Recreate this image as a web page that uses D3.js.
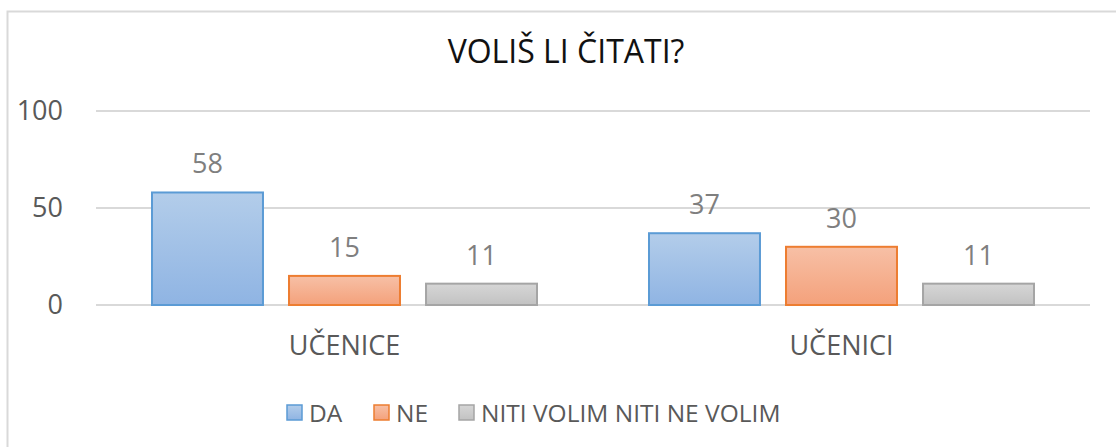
<!DOCTYPE html>
<html>
<style>
    body { margin: 0; background: #fff; font-family: "Open Sans", sans-serif; }
    text { font-family: "Open Sans", sans-serif; }
</style>
<body>
<svg id="viz" width="1116" height="447"></svg>
<script src="https://cdnjs.cloudflare.com/ajax/libs/d3/7.8.5/d3.min.js"></script>
<script>
    var categories = ['UČENICE', 'UČENICI'];
    var seriesNames = ['DA', 'NE', 'NITI VOLIM NITI NE VOLIM'];
    var seriesValues = [[58, 37], [15, 30], [11, 11]];
    var yTicks = [0, 50, 100];

    var colors = [
        { top: '#b3cdea', bottom: '#8fb4e3', stroke: '#5b9bd5' },
        { top: '#f7c0a6', bottom: '#f4a17b', stroke: '#ed7d31' },
        { top: '#d6d6d6', bottom: '#c2c2c2', stroke: '#a5a5a5' }
    ];

    var svg = d3.select('#viz');

    // chart frame
    svg.append('rect')
        .attr('x', 7.5).attr('y', 11.5)
        .attr('width', 1120).attr('height', 450)
        .attr('fill', 'none').attr('stroke', '#d9d9d9').attr('stroke-width', 2);

    var defs = svg.append('defs');
    colors.forEach(function(c, i) {
        var g = defs.append('linearGradient').attr('id', 'grad' + i)
            .attr('x1', 0).attr('y1', 0).attr('x2', 0).attr('y2', 1);
        g.append('stop').attr('offset', '0%').attr('stop-color', c.top);
        g.append('stop').attr('offset', '100%').attr('stop-color', c.bottom);
    });

    var left = 96, right = 1090;
    var x0 = d3.scaleBand().domain(categories).range([left, right]);
    var x1 = d3.scaleBand().domain(d3.range(seriesNames.length))
        .range([56, x0.bandwidth() - 56]).paddingInner(0.19);
    var y = d3.scaleLinear().domain([0, 100]).range([305, 111]);

    // title
    svg.append('text')
        .attr('x', 566).attr('y', 63)
        .attr('text-anchor', 'middle')
        .attr('font-size', 32)
        .attr('fill', '#111')
        .text('VOLIŠ LI ČITATI?');

    // gridlines
    svg.append('g').selectAll('line').data(yTicks).join('line')
        .attr('x1', left).attr('x2', right)
        .attr('y1', function(d) { return y(d); })
        .attr('y2', function(d) { return y(d); })
        .attr('stroke', '#d9d9d9').attr('stroke-width', 2);

    // y tick labels
    svg.append('g').selectAll('text').data(yTicks).join('text')
        .attr('x', 63).attr('y', function(d) { return y(d); })
        .attr('dy', '0.35em')
        .attr('text-anchor', 'end')
        .attr('font-size', 27)
        .attr('fill', '#595959')
        .text(function(d) { return d; });

    // bars
    var groups = svg.append('g').selectAll('g').data(categories).join('g')
        .attr('transform', function(d) { return 'translate(' + x0(d) + ',0)'; });

    groups.each(function(cat, ci) {
        var g = d3.select(this);
        seriesNames.forEach(function(s, si) {
            var v = seriesValues[si][ci];
            g.append('rect')
                .attr('x', x1(si)).attr('width', x1.bandwidth())
                .attr('y', y(v)).attr('height', y(0) - y(v))
                .attr('fill', 'url(#grad' + si + ')')
                .attr('stroke', colors[si].stroke).attr('stroke-width', 2);
            g.append('text')
                .attr('x', x1(si) + x1.bandwidth() / 2)
                .attr('y', y(v) - 19)
                .attr('text-anchor', 'middle')
                .attr('font-size', 27)
                .attr('fill', '#7f7f7f')
                .text(v);
        });
        g.append('text')
            .attr('x', x0.bandwidth() / 2)
            .attr('y', 346).attr('dy', '0.35em')
            .attr('text-anchor', 'middle')
            .attr('font-size', 27)
            .attr('fill', '#595959')
            .text(cat);
    });

    // legend
    var legendX = [287, 374, 459];
    var legend = svg.append('g').selectAll('g').data(seriesNames).join('g')
        .attr('transform', function(d, i) { return 'translate(' + legendX[i] + ',405)'; });
    legend.append('rect')
        .attr('width', 15).attr('height', 15)
        .attr('fill', function(d, i) { return 'url(#grad' + i + ')'; })
        .attr('stroke', function(d, i) { return colors[i].stroke; })
        .attr('stroke-width', 1.5);
    legend.append('text')
        .attr('x', 22).attr('y', 8).attr('dy', '0.35em')
        .attr('font-size', 24.5)
        .attr('fill', '#595959')
        .text(function(d) { return d; });
</script>
</body>
</html>
